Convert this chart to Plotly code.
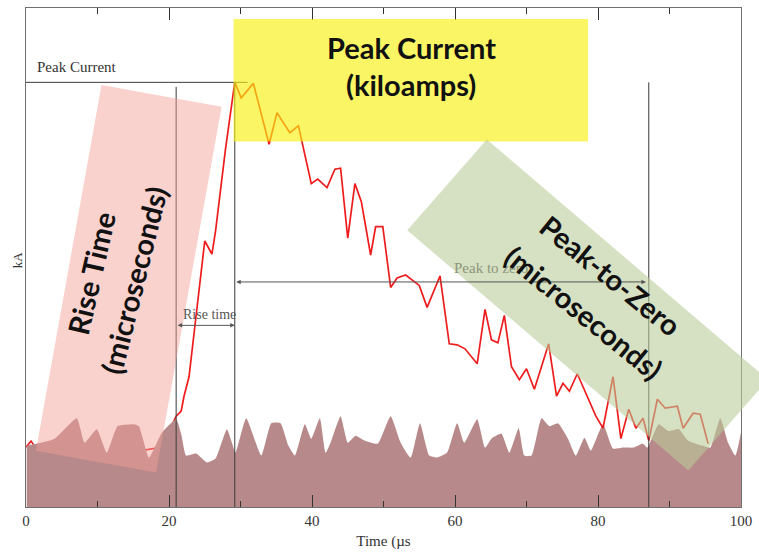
import plotly.graph_objects as go

# ---- data -------------------------------------------------------------
# background noise floor (µs, kA)
noise_t = [0.1, 4.0, 7.1, 8.2, 9.9, 11.3, 12.8, 15.1, 15.8, 17.2, 19.0, 21.0,
           21.7, 22.4, 23.8, 25.3, 26.5, 28.1, 28.8, 29.3, 30.8, 32.9, 34.3,
           35.6, 36.7, 37.6, 39.0, 39.9, 41.1, 41.9, 42.6, 44.0, 45.0, 46.1,
           47.4, 49.2, 51.0, 52.4, 53.8, 55.1, 56.4, 57.5, 58.9, 60.3, 61.3,
           63.1, 64.2, 65.1, 66.5, 67.6, 68.9, 69.7, 70.7, 72.1, 73.2, 74.4,
           75.8, 76.9, 78.1, 79.0, 80.7, 82.1, 83.5, 85.0, 86.3, 86.9, 88.5,
           89.9, 91.3, 92.6, 94.6, 95.7, 97.1, 98.2, 99.2, 100.0]
noise_ka = [12.3, 13.7, 17.8, 12.9, 15.6, 10.9, 16.2, 16.6, 16.2, 9.9, 14.9, 17.6,
            14.7, 10.3, 10.7, 8.9, 9.7, 15.6, 12.9, 10.9, 17.8, 10.3, 16.8,
            16.8, 12.3, 10.3, 16.6, 13.7, 17.8, 10.9, 12.9, 18.2, 12.9, 14.3,
            13.3, 12.7, 18.2, 12.9, 9.9, 16.8, 10.3, 9.9, 10.9, 16.8, 12.9,
            17.6, 11.9, 13.7, 14.7, 10.9, 15.8, 10.3, 10.3, 17.8, 16.2, 16.8,
            13.7, 10.3, 13.9, 11.3, 16.6, 11.7, 11.9, 11.9, 12.7, 11.9, 16.6,
            15.2, 15.6, 13.3, 12.3, 11.9, 17.8, 12.9, 10.3, 14.9]

# stroke current before the return-stroke onset
pre_t = [0.0, 0.7, 1.4, 4.0, 8.0, 11.2, 15.0, 19.0, 21.0]
pre_ka = [12.0, 13.2, 11.8, 11.0, 10.8, 10.4, 11.0, 12.0, 18.2]

# return stroke current waveform
pulse_t = [21.0, 21.7, 22.1, 22.8, 25.0, 26.0, 26.5, 27.9, 29.2,
           30.1, 31.8, 34.0, 35.1, 36.9, 38.1, 39.9, 40.8, 42.1, 43.2, 44.0,
           45.0, 46.0, 46.9, 48.2, 48.9, 49.9, 51.0, 51.9, 53.1, 55.0, 56.1,
           57.9, 59.2, 60.3, 61.4, 63.1, 64.2, 65.1, 66.0, 66.9, 67.9, 69.0,
           70.0, 71.1, 72.4, 73.1, 74.2, 75.1, 76.0, 77.1, 78.3, 79.7, 80.7,
           82.1, 83.2, 84.3, 85.3, 86.3, 87.1, 88.3, 89.4, 91.1, 91.9, 93.3,
           94.3, 95.4]
pulse_ka = [18.2, 19.2, 22.2, 26.1, 53.3, 50.7, 55.2, 71.7, 85.1,
            82.0, 84.9, 72.7, 79.0, 75.0, 76.4, 64.8, 65.7, 64.0, 67.7, 67.9,
            53.9, 64.8, 61.2, 50.5, 56.2, 56.2, 44.0, 45.9, 46.5, 44.4, 40.0,
            46.3, 32.7, 32.5, 31.7, 28.7, 39.6, 33.5, 32.9, 38.4, 28.1, 25.5,
            27.7, 23.6, 29.5, 32.7, 22.2, 24.8, 23.2, 26.7, 22.8, 18.2, 15.8,
            26.1, 13.7, 19.6, 15.8, 17.8, 13.3, 21.6, 19.8, 20.2, 15.8, 18.8,
            18.6, 12.7]

# reference markers
peak_t, peak_ka = 29.2, 85.1
onset_t = 21.0
zero_t = 87.1

x_ticks = [0, 20, 40, 60, 80, 100]

SERIF = "Liberation Serif"
SANS = "Lato"

fig = go.Figure()

fig.add_trace(go.Scatter(x=pre_t, y=pre_ka, mode="lines",
                         line=dict(color="#ee1c1c", width=1.6),
                         hoverinfo="skip", showlegend=False))
fig.add_trace(go.Scatter(x=noise_t, y=noise_ka, mode="lines",
                         line=dict(color="#b8898a", width=0, shape="spline", smoothing=0.45),
                         fill="tozeroy", fillcolor="#b8898a",
                         hoverinfo="skip", showlegend=False))
fig.add_trace(go.Scatter(x=pulse_t, y=pulse_ka, mode="lines",
                         line=dict(color="#ee1c1c", width=1.7),
                         hoverinfo="skip", showlegend=False))

shapes = []
line_col = "#3a3a3a"
# peak level and timing markers
shapes.append(dict(type="line", xref="x", yref="y", x0=0, x1=31.0, y0=peak_ka, y1=peak_ka,
                   line=dict(color=line_col, width=1), layer="above"))
shapes.append(dict(type="line", xref="x", yref="y", x0=onset_t, x1=onset_t, y0=0, y1=84.2,
                   line=dict(color=line_col, width=1), layer="above"))
shapes.append(dict(type="line", xref="x", yref="y", x0=peak_t, x1=peak_t, y0=0, y1=peak_ka,
                   line=dict(color=line_col, width=1), layer="above"))
shapes.append(dict(type="line", xref="x", yref="y", x0=zero_t, x1=zero_t, y0=0, y1=peak_ka,
                   line=dict(color=line_col, width=1), layer="above"))


def poly(pts):
    # corners given in axis units; axes span 0..100 so paper = value / 100
    return "M " + " L ".join(f"{x / 100:.4f},{y / 100:.4f}" for x, y in pts) + " Z"


# highlight panels
shapes.append(dict(type="rect", xref="paper", yref="paper",
                   x0=0.2903, x1=0.7861, y0=0.7327, y1=0.9782,
                   fillcolor="rgba(248,240,17,0.65)", line=dict(width=0), layer="above"))
shapes.append(dict(type="path", xref="paper", yref="paper",
                   path=poly([(10.56, 84.55), (27.36, 80.2), (18.19, 6.93), (1.39, 11.29)]),
                   fillcolor="rgba(243,160,150,0.47)", line=dict(width=0), layer="above"))
shapes.append(dict(type="path", xref="paper", yref="paper",
                   path=poly([(64.44, 73.66), (103.75, 25.54), (92.64, 7.33), (53.33, 55.45)]),
                   fillcolor="rgba(186,203,152,0.59)", line=dict(width=0), layer="above"))

ann = []
# measurement labels
ann.append(dict(x=7.15, y=88.1, xref="x", yref="y", text="Peak Current", showarrow=False,
                font=dict(family=SERIF, size=15, color="#333333")))
ann.append(dict(x=25.6, y=38.6, xref="x", yref="y", text="Rise time", showarrow=False,
                font=dict(family=SERIF, size=14, color="#555555")))
ann.append(dict(x=59.6, y=47.9, xref="x", yref="y", text="Peak to zero", showarrow=False,
                xanchor="left", font=dict(family=SERIF, size=15, color="#8d957c")))
ann.append(dict(x=-0.011, y=0.495, xref="paper", yref="paper", text="kA", showarrow=False,
                xanchor="center", yanchor="middle",
                textangle=-90, font=dict(family=SERIF, size=13, color="#333333")))
# double-headed interval arrows
for (xa, xb, yv) in [(onset_t, peak_t, 36.4), (peak_t, 86.7, 45.1)]:
    ann.append(dict(x=xb, y=yv, ax=xa, ay=yv, xref="x", yref="y", axref="x", ayref="y",
                    text="", showarrow=True, arrowhead=2, arrowside="end+start",
                    arrowsize=0.9, arrowwidth=1, arrowcolor="#555555"))
# panel captions
cap = dict(family=SANS, size=29, color="#111111")
ann.append(dict(x=53.9, y=92.1, xref="x", yref="y", text="<b>Peak Current</b>", showarrow=False,
                font=cap))
ann.append(dict(x=53.9, y=84.6, xref="x", yref="y", text="<b>(kiloamps)</b>", showarrow=False,
                font=cap))
ann.append(dict(x=9.17, y=46.9, xref="x", yref="y", text="<b>Rise Time</b>", showarrow=False,
                textangle=-77, font=cap))
ann.append(dict(x=15.14, y=45.5, xref="x", yref="y", text="<b>(microseconds)</b>", showarrow=False,
                textangle=-76, font=cap))
ann.append(dict(x=81.8, y=46.3, xref="x", yref="y", text="<b>Peak-to-Zero</b>", showarrow=False,
                textangle=39, font=cap))
ann.append(dict(x=78.06, y=39.0, xref="x", yref="y", text="<b>(microseconds)</b>", showarrow=False,
                textangle=39, font=cap))

fig.update_layout(
    width=759, height=554,
    margin=dict(l=26, r=13, t=7, b=42),
    paper_bgcolor="white", plot_bgcolor="white",
    shapes=shapes, annotations=ann,
    xaxis=dict(range=[0, 100], tickvals=x_ticks, ticktext=[str(v) for v in x_ticks],
               ticks="inside", ticklen=12, tickcolor="#333333", tickwidth=1,
               minor=dict(dtick=10, ticks="inside", ticklen=6, tickcolor="#333333"),
               showline=True, linecolor="#707070", linewidth=1, mirror="ticks",
               showgrid=False, zeroline=False,
               tickfont=dict(family=SERIF, size=15, color="#333333"),
               title=dict(text="Time (µs", font=dict(family=SERIF, size=15, color="#333333"),
                          standoff=7)),
    yaxis=dict(range=[0, 100], showticklabels=False, ticks="", showgrid=False,
               zeroline=False, showline=True, linecolor="#707070", linewidth=1, mirror=True),
)

fig.write_html("out.html")
